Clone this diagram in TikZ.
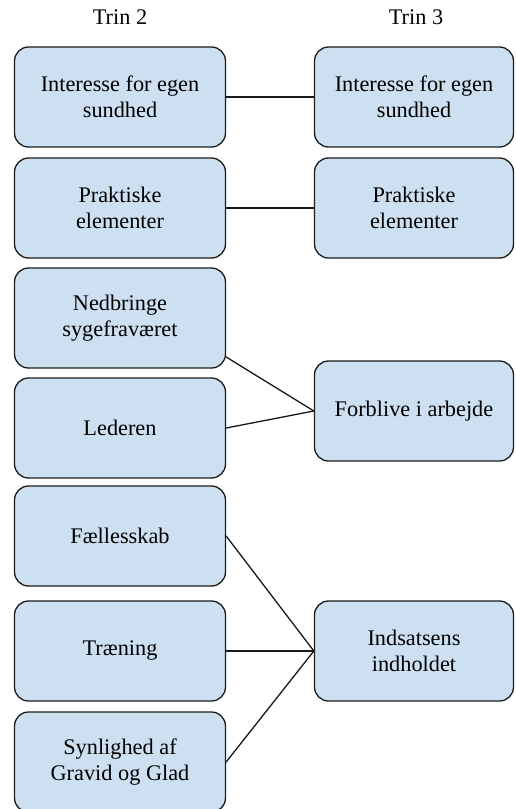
\documentclass[tikz,border=0pt]{standalone}
\usepackage{fontspec}
\setmainfont{Liberation Serif}
\definecolor{boxfill}{RGB}{205,224,241}
\definecolor{boxline}{RGB}{28,28,28}

\begin{document}
\begin{tikzpicture}[x=1pt, y=1pt, font=\fontsize{22.3}{26.5}\selectfont,
  trinbox/.style={draw=boxline, fill=boxfill, line width=1.3pt,
    rounded corners=14pt, align=center, minimum height=100pt, inner sep=0pt},
  leftbox/.style={trinbox, minimum width=211pt},
  rightbox/.style={trinbox, minimum width=199pt},
  link/.style={line width=1.3pt, black!90}]

% page = 515 x 809, one unit = one pt
\useasboundingbox (0,0) rectangle (515,-809);

%% ── column headers ───────────────────────────────────────────────
\node (trin2) at (120,-17) {Trin 2};
\node (trin3) at (416,-17) {Trin 3};

%% ── step 2 column ────────────────────────────────────────────────
\foreach \n/\y/\lab in {l1/97/{Interesse for egen\\sundhed},
                        l2/208/{Praktiske\\elementer},
                        l3/318/{Nedbringe\\sygefraværet},
                        l4/428/{Lederen},
                        l5/536/{Fællesskab},
                        l6/651/{Træning},
                        l7/762/{Synlighed af\\Gravid og Glad}}{
  \node[leftbox] (\n) at (120,-\y) {\lab};
}

%% ── step 3 column ────────────────────────────────────────────────
\foreach \n/\y/\lab in {r1/97/{Interesse for egen\\sundhed},
                        r2/208/{Praktiske\\elementer},
                        r3/411/{Forblive i arbejde},
                        r4/651/{Indsatsens\\indholdet}}{
  \node[rightbox] (\n) at (414,-\y) {\lab};
}

%% ── links between the steps ──────────────────────────────────────
\draw[link] (l1) -- (r1);
\draw[link] (l2) -- (r2);
\draw[link] ([yshift=-39pt]l3.east) -- (r3.west);
\draw[link] (l4.east) -- (r3.west);
\foreach \n in {l5,l6,l7}{
  \draw[link] (\n.east) -- (r4.west);
}

\end{tikzpicture}
\end{document}
